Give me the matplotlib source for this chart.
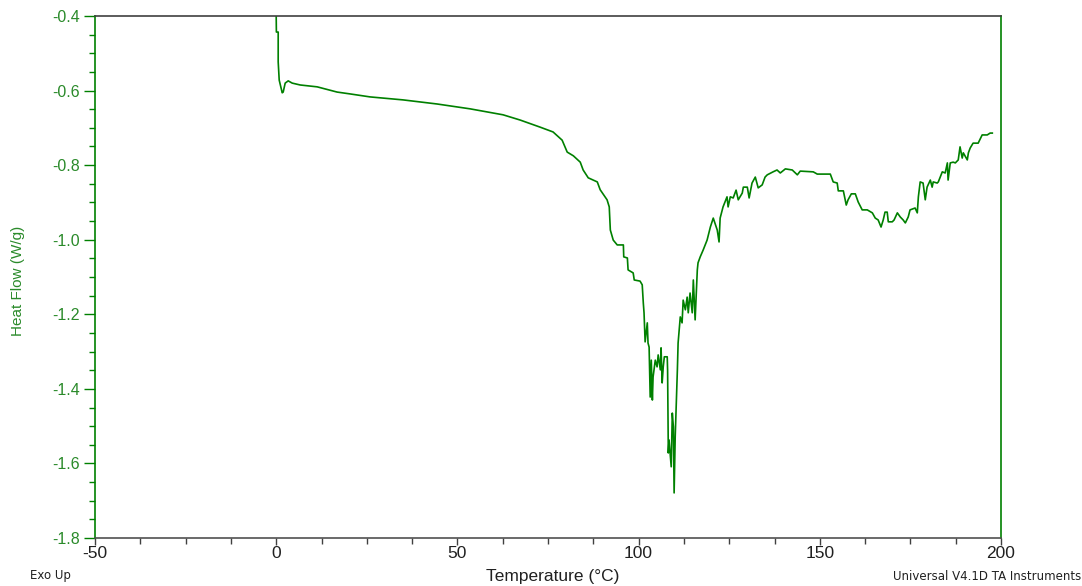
import matplotlib
matplotlib.use("Agg")
import matplotlib.pyplot as plt
from matplotlib.ticker import MultipleLocator

plt.rcParams['font.family'] = ['Liberation Sans', 'DejaVu Sans']

temperature = [
    0.0, 0.05, 0.55, 0.55, 0.83, 1.66, 1.93, 2.48, 3.31, 4.42, 6.62, 11.3, 16.8, 20.4,
    25.9, 35.0, 44.4, 53.5, 62.6, 67.3, 72.8, 76.4, 78.9, 80.3, 82.0, 83.9, 84.7, 86.1,
    88.6, 89.4, 91.3, 91.9, 92.2, 93.0, 94.1, 95.8, 95.9, 96.9, 97.1, 98.5, 98.8, 100.4,
    101.0, 101.3, 101.5, 101.8, 102.4, 102.6, 102.9, 103.2, 103.5, 103.8, 104.0, 104.6,
    105.1, 105.4, 106.0, 106.2, 106.5, 106.8, 107.1, 107.9, 108.0, 108.2, 108.4, 109.0,
    109.3, 109.6, 109.8, 110.1, 110.7, 110.9, 111.5, 112.0, 112.3, 112.9, 113.4, 113.7,
    114.2, 114.8, 115.1, 115.6, 116.2, 116.4, 117.0, 117.8, 118.9, 119.8, 120.6, 121.7,
    122.2, 122.5, 123.3, 124.4, 124.7, 125.3, 126.1, 126.9, 127.5, 128.6, 128.9, 130.0,
    130.5, 131.3, 132.2, 133.0, 134.1, 134.9, 135.5, 137.1, 138.2, 139.1, 140.5, 142.4,
    143.8, 144.6, 148.2, 149.3, 152.1, 152.9, 153.7, 154.8, 155.1, 156.5, 157.3, 157.8,
    158.7, 159.8, 160.6, 161.7, 163.1, 164.5, 165.3, 166.1, 166.9, 167.5, 168.0, 168.6,
    168.9, 170.0, 170.5, 171.4, 172.2, 173.0, 173.6, 174.4, 174.9, 176.3, 176.9, 177.2,
    177.7, 178.5, 179.1, 179.6, 180.5, 181.0, 181.3, 182.4, 182.7, 183.8, 184.6, 185.2,
    185.4, 186.0, 186.8, 187.4, 188.2, 188.7, 189.3, 189.6, 190.7, 191.0, 191.5, 192.3,
    193.7, 194.8, 196.2, 197.0, 197.6,
]

heat_flow = [
    -0.400, -0.443, -0.443, -0.523, -0.572, -0.606, -0.604, -0.580, -0.574, -0.580, -0.585,
    -0.590, -0.604, -0.609, -0.617, -0.625, -0.636, -0.649, -0.665, -0.679, -0.698, -0.711,
    -0.733, -0.765, -0.775, -0.792, -0.813, -0.834, -0.845, -0.866, -0.893, -0.912, -0.974,
    -1.001, -1.014, -1.014, -1.046, -1.049, -1.081, -1.089, -1.108, -1.111, -1.121, -1.170,
    -1.196, -1.274, -1.223, -1.277, -1.288, -1.422, -1.323, -1.430, -1.368, -1.323, -1.341,
    -1.309, -1.349, -1.290, -1.384, -1.341, -1.314, -1.314, -1.349, -1.572, -1.537, -1.609,
    -1.465, -1.502, -1.679, -1.529, -1.349, -1.277, -1.207, -1.223, -1.162, -1.188, -1.154,
    -1.196, -1.143, -1.196, -1.108, -1.215, -1.081, -1.062, -1.046, -1.028, -1.001, -0.966,
    -0.942, -0.974, -1.006, -0.942, -0.912, -0.885, -0.912, -0.885, -0.888, -0.867, -0.893,
    -0.875, -0.859, -0.859, -0.888, -0.848, -0.832, -0.861, -0.853, -0.832, -0.826, -0.818,
    -0.813, -0.821, -0.810, -0.813, -0.826, -0.816, -0.818, -0.824, -0.824, -0.824, -0.845,
    -0.848, -0.869, -0.869, -0.907, -0.893, -0.877, -0.877, -0.899, -0.920, -0.920, -0.928,
    -0.942, -0.947, -0.966, -0.947, -0.926, -0.926, -0.952, -0.952, -0.947, -0.928, -0.939,
    -0.947, -0.955, -0.939, -0.920, -0.915, -0.928, -0.885, -0.845, -0.848, -0.893, -0.859,
    -0.840, -0.859, -0.845, -0.848, -0.845, -0.818, -0.821, -0.794, -0.840, -0.794, -0.792,
    -0.794, -0.786, -0.751, -0.781, -0.767, -0.786, -0.767, -0.754, -0.741, -0.741, -0.719,
    -0.719, -0.714, -0.714,
]

x_ticks = [-50, 0, 50, 100, 150, 200]
y_ticks = [-1.8, -1.6, -1.4, -1.2, -1.0, -0.8, -0.6, -0.4]

line_color = '#008000'
ylab_color = '#2a8a2a'

fig = plt.figure(figsize=(10.82, 5.86), dpi=100)
ax = fig.add_axes([95 / 1082, 1 - 538 / 586, (1001 - 95) / 1082, (538 - 16) / 586])

ax.plot(temperature, heat_flow, color=line_color, linewidth=1.2)

ax.set_xlim(-50, 200)
ax.set_ylim(-1.8, -0.4)
ax.set_xticks(x_ticks)
ax.set_xticklabels([str(v) for v in x_ticks])
ax.set_yticks(y_ticks)
ax.set_yticklabels([f"{v:.1f}" for v in y_ticks])
ax.xaxis.set_minor_locator(MultipleLocator(12.5))
ax.yaxis.set_minor_locator(MultipleLocator(0.05))

ax.tick_params(axis='x', which='major', direction='out', length=5, width=1,
               color='#404040', labelsize=12.5, labelcolor='#202020', pad=1)
ax.tick_params(axis='x', which='minor', direction='out', length=4, width=1, color='#404040')
ax.tick_params(axis='y', which='major', direction='out', length=8, width=1,
               color=line_color, labelsize=11.5, labelcolor=ylab_color, pad=3)
ax.tick_params(axis='y', which='minor', direction='out', length=4, width=1, color=line_color)
ax.tick_params(top=False, right=False)

ax.spines['left'].set_color(line_color)
ax.spines['right'].set_color(line_color)
ax.spines['top'].set_color('#404040')
ax.spines['bottom'].set_color('#505050')
for s in ax.spines.values():
    s.set_linewidth(1.2)

fig.text(18 / 1082, 1 - 281 / 586, 'Heat Flow (W/g)', rotation=90, color=ylab_color,
         fontsize=11, ha='center', va='center')
fig.text(553 / 1082, 1 - 576 / 586, 'Temperature (°C)', color='#202020',
         fontsize=12.5, ha='center', va='center')
fig.text(30 / 1082, 1 - 576 / 586, 'Exo Up', color='#202020', fontsize=8.5,
         ha='left', va='center', family=['DejaVu Sans'])
fig.text(893 / 1082, 1 - 576 / 586, 'Universal V4.1D TA Instruments', color='#202020',
         fontsize=8.5, ha='left', va='center', family=['DejaVu Sans'])

fig.savefig('out.png', dpi=100)
